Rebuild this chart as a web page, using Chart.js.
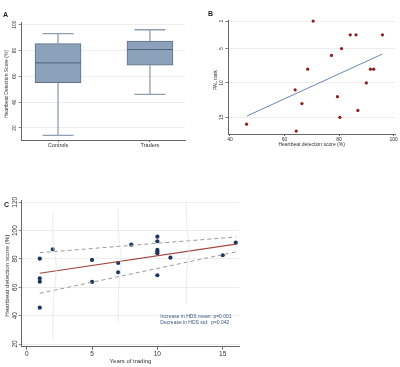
<!DOCTYPE html>
<html>
<head>
<meta charset="utf-8">
<script src="https://cdn.jsdelivr.net/npm/chart.js@4.4.0/dist/chart.umd.min.js"></script>
<style>
html, body { margin: 0; padding: 0; background: #fff; }
#wrap { position: relative; width: 400px; height: 367px; overflow: hidden; }
canvas { position: absolute; }
.panel { position: absolute; font: bold 7px "Liberation Sans", Arial, sans-serif; color: #222; }
</style>
</head>
<body>
<div id="wrap">
    <canvas id="chartA" width="197" height="165" style="left:0;top:0"></canvas>
    <canvas id="chartB" width="203" height="165" style="left:197px;top:0"></canvas>
    <canvas id="chartC" width="250" height="177" style="left:0;top:190px"></canvas>
    <div class="panel" style="left:3px;top:11px">A</div>
    <div class="panel" style="left:208px;top:10px">B</div>
    <div class="panel" style="left:4px;top:201px">C</div>
</div>
<script>
// panel A - box plot
const boxGroups = ['Controls', 'Traders'];
const boxMin = [14.3, 46];
const boxQ1 = [55, 68.6];
const boxMedian = [70.4, 80.7];
const boxQ3 = [85.3, 87.3];
const boxMax = [93, 96];
const aTicks = [20, 40, 60, 80, 100];

// panel B - PAL rank vs heartbeat detection
const palScore = [70.5, 84.1, 86.2, 95.9, 80.9, 77.2, 68.5, 91.5, 92.7, 90.0, 63.9, 79.4, 66.4, 86.9, 80.3, 46.1, 64.3];
const palRank = [1, 3, 3, 3, 5, 6, 8, 8, 8, 10, 11, 12, 13, 14, 15, 16, 17];
const palFitScore = [46.3, 95.9];
const palFitRank = [14.8, 5.8];
const bXTicks = [40, 60, 80, 100];
const bYTicks = [1, 5, 10, 15];

// panel C - years of trading
const tradeYears = [1, 1, 1, 1, 2, 5, 5, 7, 7, 8, 10, 10, 10, 10, 10, 10, 11, 15, 16];
const tradeHds = [80.2, 66.4, 64.0, 45.6, 86.8, 79.3, 63.8, 77.2, 70.6, 90.1, 95.7, 92.5, 86.4, 85.2, 84.0, 68.5, 80.9, 82.6, 91.5];
const fitYears = [1, 16];
const fitMean = [69.9, 90.4];
const fitUpper = [84.4, 95.5];
const fitLower = [55.8, 85.0];
const dens2Years = [2, 2.02, 2.1, 2.24, 2.27, 2.19, 2.06, 2.01, 2];
const dens2Hds = [112, 96, 86, 78, 73, 64, 52, 38, 24];
const dens7Years = [7, 7.02, 7.1, 7.22, 7.24, 7.17, 7.05, 7.01, 7];
const dens7Hds = [116, 101, 91, 83, 78, 71, 61, 48, 36];
const dens12Years = [12.2, 12.22, 12.3, 12.41, 12.43, 12.36, 12.25, 12.21, 12.2];
const dens12Hds = [120.5, 109, 99, 91, 86, 80, 71, 59, 48];
const cXTicks = [0, 5, 10, 15];
const cYTicks = [20, 40, 60, 80, 100, 120];
const cNotes = ['Increase in HDS mean: p=0.001', 'Decrease in HDS std:  p=0.042'];

Chart.defaults.font.family = '"Liberation Sans", Arial, sans-serif';
Chart.defaults.color = '#333';
Chart.defaults.animation = false;

const pts = (xs, ys) => xs.map((v, i) => ({ x: v, y: ys[i] }));
const fixTicks = vals => scale => { scale.ticks = vals.map(v => ({ value: v })); };

// rotated y tick labels + y title (Stata style)
const yAxisText = {
    id: 'yAxisText',
    afterDraw(chart, args, opts) {
        const { ctx, chartArea } = chart;
        const ys = chart.scales.y;
        ctx.save();
        ctx.fillStyle = '#333';
        ctx.textAlign = 'center';
        ctx.textBaseline = 'middle';
        ctx.font = opts.tickSize + 'px "Liberation Sans", Arial, sans-serif';
        ys.ticks.forEach(t => {
            ctx.save();
            ctx.translate(opts.tickX, ys.getPixelForValue(t.value));
            ctx.rotate(-Math.PI / 2);
            ctx.fillText(String(t.value), 0, 0);
            ctx.restore();
        });
        ctx.font = opts.titleSize + 'px "Liberation Sans", Arial, sans-serif';
        ctx.translate(opts.titleX, (chartArea.top + chartArea.bottom) / 2 + (opts.shift || 0));
        ctx.rotate(-Math.PI / 2);
        ctx.fillText(opts.title, 0, 0);
        ctx.restore();
    }
};

function axisY(min, max, ticks, width, reverse) {
    return {
        type: 'linear', min: min, max: max, reverse: !!reverse,
        afterBuildTicks: fixTicks(ticks),
        afterFit: s => { s.width = width; },
        ticks: { display: false },
        grid: { color: '#e8e8e8', tickColor: '#666', tickLength: 3, lineWidth: 0.8 },
        border: { color: '#666', width: 1 }
    };
}

function axisX(min, max, ticks, height, size, tickLen, pad, labels) {
    return {
        type: 'linear', min: min, max: max, offset: false,
        afterBuildTicks: fixTicks(ticks),
        afterFit: s => { s.height = height; },
        ticks: {
            font: { size: size }, padding: pad, maxRotation: 0, autoSkip: false,
            callback: labels ? (v => labels[v - 1]) : (v => v)
        },
        grid: { drawOnChartArea: false, offset: false, tickColor: '#666', tickLength: tickLen },
        border: { color: '#666', width: 1 }
    };
}

// ---- A ----
const boxLines = {
    id: 'boxLines',
    beforeDatasetsDraw(chart) {
        const { ctx, scales: { x, y } } = chart;
        ctx.save();
        ctx.strokeStyle = '#8e9fb3';
        ctx.lineWidth = 1.3;
        boxGroups.forEach((g, i) => {
            const cx = x.getPixelForValue(i + 1);
            ctx.beginPath();
            ctx.moveTo(cx, y.getPixelForValue(boxMin[i]));
            ctx.lineTo(cx, y.getPixelForValue(boxQ1[i]));
            ctx.moveTo(cx, y.getPixelForValue(boxQ3[i]));
            ctx.lineTo(cx, y.getPixelForValue(boxMax[i]));
            [boxMin[i], boxMax[i]].forEach(v => {
                ctx.moveTo(cx - 15.5, y.getPixelForValue(v));
                ctx.lineTo(cx + 15.5, y.getPixelForValue(v));
            });
            ctx.stroke();
        });
        ctx.restore();
    },
    afterDatasetsDraw(chart) {
        const { ctx, scales: { x, y } } = chart;
        ctx.save();
        ctx.strokeStyle = '#4d617b';
        ctx.lineWidth = 1;
        boxGroups.forEach((g, i) => {
            const cx = x.getPixelForValue(i + 1);
            const py = y.getPixelForValue(boxMedian[i]);
            ctx.beginPath();
            ctx.moveTo(cx - 23, py);
            ctx.lineTo(cx + 23, py);
            ctx.stroke();
        });
        ctx.restore();
    }
};

new Chart(document.getElementById('chartA'), {
    type: 'bar',
    data: {
        datasets: [{
            data: boxGroups.map((g, i) => ({ x: i + 1, y: [boxQ1[i], boxQ3[i]] })),
            backgroundColor: '#8ca1ba',
            borderColor: '#5d718b',
            borderWidth: 1,
            borderSkipped: false,
            barThickness: 46
        }]
    },
    options: {
        responsive: false,
        layout: { padding: { left: 0, top: 22, right: 12, bottom: 0 } },
        scales: {
            x: axisX(0.605, 2.381, [1, 2], 25, 5.5, 2, 0, boxGroups),
            y: axisY(10.7, 102, aTicks, 21.7)
        },
        plugins: {
            legend: { display: false },
            tooltip: { enabled: false },
            yAxisText: { tickX: 15, titleX: 7, tickSize: 5, titleSize: 5, title: 'Heartbeat Detection Score (%)', shift: 3 }
        }
    },
    plugins: [boxLines, yAxisText]
});

// ---- B ----
new Chart(document.getElementById('chartB'), {
    type: 'scatter',
    data: {
        datasets: [{
            data: pts(palScore, palRank),
            backgroundColor: '#8b1d1d',
            borderWidth: 0,
            pointRadius: 1.6,
            clip: false
        }, {
            data: pts(palFitScore, palFitRank),
            showLine: true,
            borderColor: '#6a87ab',
            borderWidth: 1,
            pointRadius: 0
        }]
    },
    options: {
        responsive: false,
        layout: { padding: { left: 0, top: 20, right: 5, bottom: 0 } },
        scales: {
            x: Object.assign(axisX(39.4, 100.5, bXTicks, 31, 5, 2, 0.5), {
                title: { display: true, text: 'Heartbeat detection score (%)', font: { size: 5 }, padding: { top: 0, bottom: 17 } }
            }),
            y: axisY(0.85, 17.43, bYTicks, 31.3, true)
        },
        plugins: {
            legend: { display: false },
            tooltip: { enabled: false },
            yAxisText: { tickX: 24.7, titleX: 18.7, tickSize: 5, titleSize: 5, title: 'PAL rank', shift: 3 }
        }
    },
    plugins: [yAxisText]
});

// ---- C ----
const notes = {
    id: 'notes',
    afterDraw(chart) {
        const { ctx, chartArea } = chart;
        ctx.save();
        ctx.fillStyle = '#3b5680';
        ctx.font = '5px "Liberation Sans", Arial, sans-serif';
        ctx.textBaseline = 'middle';
        cNotes.forEach((t, i) => ctx.fillText(t, chartArea.right - 79, chartArea.bottom - 30.5 + i * 6.8));
        ctx.restore();
    }
};

const densLine = (xs, ys) => ({
    data: pts(xs, ys), showLine: true, borderColor: '#e3e3e3', borderWidth: 0.8, pointRadius: 0, tension: 0.4
});

new Chart(document.getElementById('chartC'), {
    type: 'scatter',
    data: {
        datasets: [
            densLine(dens2Years, dens2Hds),
            densLine(dens7Years, dens7Hds),
            densLine(dens12Years, dens12Hds),
            {
                data: pts(fitYears, fitUpper), showLine: true, borderColor: '#9a9a9a',
                borderWidth: 1, borderDash: [4, 3], pointRadius: 0
            },
            {
                data: pts(fitYears, fitLower), showLine: true, borderColor: '#9a9a9a',
                borderWidth: 1, borderDash: [4, 3], pointRadius: 0
            },
            {
                data: pts(fitYears, fitMean), showLine: true, borderColor: '#a5453f',
                borderWidth: 1.2, pointRadius: 0
            },
            {
                data: pts(tradeYears, tradeHds), backgroundColor: '#1c355e',
                borderWidth: 0, pointRadius: 2.1, clip: false
            }
        ]
    },
    options: {
        responsive: false,
        layout: { padding: { left: 0, top: 10.7, right: 10.7, bottom: 0 } },
        scales: {
            x: Object.assign(axisX(-0.383, 16.27, cXTicks, 20.3, 6.5, 3, 1), {
                title: { display: true, text: 'Years of trading', font: { size: 6 }, padding: { top: 0, bottom: 1.7 } }
            }),
            y: axisY(18.1, 121.1, cYTicks, 21.7)
        },
        plugins: {
            legend: { display: false },
            tooltip: { enabled: false },
            yAxisText: { tickX: 15, titleX: 7.3, tickSize: 6.5, titleSize: 6.2, title: 'Heartbeat detection score (%)', shift: 2 }
        }
    },
    plugins: [yAxisText, notes]
});
</script>
</body>
</html>
